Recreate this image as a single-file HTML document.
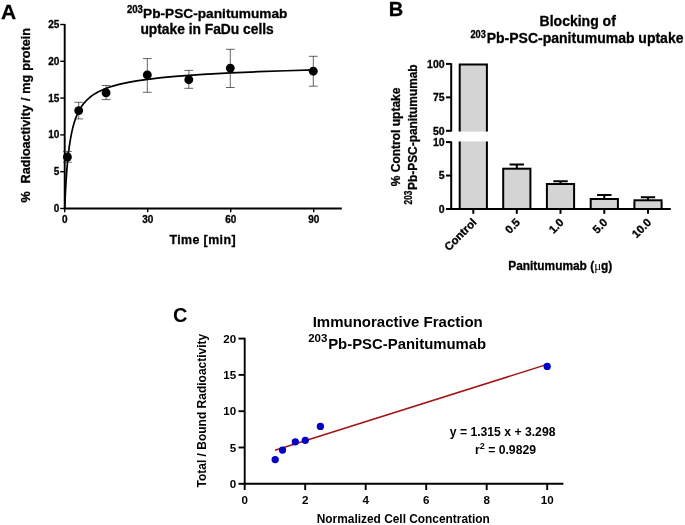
<!DOCTYPE html>
<html lang="en">
<head>
<meta charset="utf-8">
<title>203Pb-PSC-panitumumab figure</title>
<style>
html,body{margin:0;padding:0;background:#fff;}
body{width:685px;height:525px;overflow:hidden;}
svg{display:block;will-change:transform;}
text{white-space:pre;}
.hv text{stroke:#000;stroke-width:0.3px;stroke-linejoin:round;}
</style>
</head>
<body>
<svg width="685" height="525" viewBox="0 0 685 525">
<rect width="685" height="525" fill="#fff"/>
<g id="panelA" font-family='"Liberation Sans", Arial, Helvetica, sans-serif' font-weight="bold" fill="#000" class="hv">
<text x="0.9" y="18.8" font-size="21">A</text>
<text x="126.9" y="12.7" font-size="10" textLength="16" lengthAdjust="spacingAndGlyphs">203</text>
<text x="143.0" y="18.4" font-size="13.7">Pb-PSC-panitumumab</text>
<text x="207.1" y="34.3" font-size="13.8" text-anchor="middle">uptake in FaDu cells</text>
<path d="M64.7 23.9 V208.5 H341.8" fill="none" stroke="#000" stroke-width="1.9"/>
<path d="M60.2 208.50 H64.7" stroke="#000" stroke-width="1.4"/>
<text x="59.300000000000004" y="211.90" font-size="10" text-anchor="end">0</text>
<path d="M60.2 171.70 H64.7" stroke="#000" stroke-width="1.4"/>
<text x="59.300000000000004" y="175.10" font-size="10" text-anchor="end">5</text>
<path d="M60.2 134.90 H64.7" stroke="#000" stroke-width="1.4"/>
<text x="59.300000000000004" y="138.30" font-size="10" text-anchor="end">10</text>
<path d="M60.2 98.10 H64.7" stroke="#000" stroke-width="1.4"/>
<text x="59.300000000000004" y="101.50" font-size="10" text-anchor="end">15</text>
<path d="M60.2 61.30 H64.7" stroke="#000" stroke-width="1.4"/>
<text x="59.300000000000004" y="64.70" font-size="10" text-anchor="end">20</text>
<path d="M60.2 24.50 H64.7" stroke="#000" stroke-width="1.4"/>
<text x="59.300000000000004" y="27.90" font-size="10" text-anchor="end">25</text>
<path d="M64.70 208.5 V212.3" stroke="#000" stroke-width="1.4"/>
<text x="64.70" y="223.4" font-size="10" text-anchor="middle">0</text>
<path d="M147.70 208.5 V212.3" stroke="#000" stroke-width="1.4"/>
<text x="147.70" y="223.4" font-size="10" text-anchor="middle">30</text>
<path d="M230.70 208.5 V212.3" stroke="#000" stroke-width="1.4"/>
<text x="230.70" y="223.4" font-size="10" text-anchor="middle">60</text>
<path d="M313.70 208.5 V212.3" stroke="#000" stroke-width="1.4"/>
<text x="313.70" y="223.4" font-size="10" text-anchor="middle">90</text>
<text x="202.7" y="244.0" font-size="12.4" letter-spacing="0.4" text-anchor="middle">Time [min]</text>
<text transform="translate(30.4 28.1) rotate(-90)" font-size="12.6" word-spacing="0.45" text-anchor="end">%  Radioactivity / mg protein</text>
<path d="M64.70 208.50 L64.84 205.10 L64.98 201.87 L65.25 195.87 L65.53 190.42 L65.95 183.10 L66.36 176.65 L66.91 169.17 L67.47 162.71 L68.30 154.53 L69.13 147.74 L70.23 140.29 L71.62 132.87 L73.00 126.93 L74.38 122.08 L75.77 118.03 L77.15 114.60 L78.53 111.66 L81.30 106.85 L84.07 103.08 L86.83 100.03 L89.60 97.52 L92.37 95.40 L97.90 92.01 L103.43 89.40 L108.97 87.31 L114.50 85.60 L120.03 84.16 L128.33 82.36 L136.63 80.89 L147.70 79.29 L161.53 77.69 L175.37 76.38 L189.20 75.30 L203.03 74.38 L216.87 73.58 L230.70 72.89 L258.37 71.71 L286.03 70.76 L313.70 69.97" fill="none" stroke="#000" stroke-width="1.7" stroke-linejoin="round"/>
<path d="M67.4 151.4 V162.2 M63.00000000000001 151.4 H71.80000000000001 M63.00000000000001 162.2 H71.80000000000001" fill="none" stroke="#222" stroke-width="0.7"/>
<path d="M78.7 102.3 V118.9 M74.3 102.3 H83.10000000000001 M74.3 118.9 H83.10000000000001" fill="none" stroke="#222" stroke-width="0.7"/>
<path d="M106.1 85.5 V99.6 M101.69999999999999 85.5 H110.5 M101.69999999999999 99.6 H110.5" fill="none" stroke="#222" stroke-width="0.7"/>
<path d="M147.3 58.6 V92.3 M142.9 58.6 H151.70000000000002 M142.9 92.3 H151.70000000000002" fill="none" stroke="#222" stroke-width="0.7"/>
<path d="M188.8 70.4 V88.3 M184.4 70.4 H193.20000000000002 M184.4 88.3 H193.20000000000002" fill="none" stroke="#222" stroke-width="0.7"/>
<path d="M230.3 49.3 V87.5 M225.9 49.3 H234.70000000000002 M225.9 87.5 H234.70000000000002" fill="none" stroke="#222" stroke-width="0.7"/>
<path d="M313.3 56.3 V86.2 M308.90000000000003 56.3 H317.7 M308.90000000000003 86.2 H317.7" fill="none" stroke="#222" stroke-width="0.7"/>
<circle cx="67.4" cy="157.0" r="4.45"/>
<circle cx="78.7" cy="110.6" r="4.45"/>
<circle cx="106.1" cy="92.8" r="4.45"/>
<circle cx="147.3" cy="74.9" r="4.45"/>
<circle cx="188.8" cy="79.7" r="4.45"/>
<circle cx="230.3" cy="68.1" r="4.45"/>
<circle cx="313.3" cy="71.2" r="4.45"/>
</g>
<g id="panelB" font-family='"Liberation Sans", Arial, Helvetica, sans-serif' font-weight="bold" fill="#000" class="hv">
<text x="388.7" y="15.8" font-size="20">B</text>
<text x="577.7" y="25.6" font-size="14" text-anchor="middle">Blocking of</text>
<text x="470.4" y="37.7" font-size="10.3" textLength="15.4" lengthAdjust="spacingAndGlyphs">203</text>
<text x="486.7" y="43.3" font-size="14">Pb-PSC-panitumumab uptake</text>
<rect x="459.7" y="64.4" width="27.2" height="67.2" fill="#d4d4d4" stroke="none"/>
<path d="M459.7 131.6 V64.4 H486.90000000000003 V131.6" fill="none" stroke="#000" stroke-width="2"/>
<rect x="459.7" y="141.4" width="27.2" height="67.6" fill="#d4d4d4" stroke="none"/>
<path d="M459.7 141.4 V209.0 M486.90000000000003 141.4 V209.0" fill="none" stroke="#000" stroke-width="2"/>
<path d="M516.8 168.7 V164.4 M509.59999999999997 164.4 H524.0" fill="none" stroke="#000" stroke-width="2"/>
<rect x="503.19999999999993" y="168.7" width="27.2" height="40.30000000000001" fill="#d4d4d4" stroke="#000" stroke-width="2"/>
<path d="M560.5 184.0 V181.3 M553.3 181.3 H567.7" fill="none" stroke="#000" stroke-width="2"/>
<rect x="546.9" y="184.0" width="27.2" height="25.0" fill="#d4d4d4" stroke="#000" stroke-width="2"/>
<path d="M604.3 199.0 V194.9 M597.0999999999999 194.9 H611.5" fill="none" stroke="#000" stroke-width="2"/>
<rect x="590.6999999999999" y="199.0" width="27.2" height="10.0" fill="#d4d4d4" stroke="#000" stroke-width="2"/>
<path d="M648.0 200.3 V197.2 M640.8 197.2 H655.2" fill="none" stroke="#000" stroke-width="2"/>
<rect x="634.4" y="200.3" width="27.2" height="8.699999999999989" fill="#d4d4d4" stroke="#000" stroke-width="2"/>
<path d="M451.2 63.2 V131.6 M451.2 141.4 V209.0 H670.8" fill="none" stroke="#000" stroke-width="2"/>
<path d="M446.0 130.80 H451.2" stroke="#000" stroke-width="2"/>
<text x="444.59999999999997" y="134.60" font-size="10.5" text-anchor="end">50</text>
<path d="M446.0 97.35 H451.2" stroke="#000" stroke-width="2"/>
<text x="444.59999999999997" y="101.15" font-size="10.5" text-anchor="end">75</text>
<path d="M446.0 63.90 H451.2" stroke="#000" stroke-width="2"/>
<text x="444.59999999999997" y="67.70" font-size="10.5" text-anchor="end">100</text>
<path d="M446.0 209.00 H451.2" stroke="#000" stroke-width="2"/>
<text x="444.59999999999997" y="212.80" font-size="10.5" text-anchor="end">0</text>
<path d="M446.0 175.55 H451.2" stroke="#000" stroke-width="2"/>
<text x="444.59999999999997" y="179.35" font-size="10.5" text-anchor="end">5</text>
<path d="M446.0 142.10 H451.2" stroke="#000" stroke-width="2"/>
<text x="444.59999999999997" y="145.90" font-size="10.5" text-anchor="end">10</text>
<path d="M473.3 209.0 V213.8" stroke="#000" stroke-width="2"/>
<text transform="translate(477.3 223.1) rotate(-45)" font-size="11.3" text-anchor="end">Control</text>
<path d="M516.8 209.0 V213.8" stroke="#000" stroke-width="2"/>
<text transform="translate(520.8 223.1) rotate(-45)" font-size="11.3" text-anchor="end">0.5</text>
<path d="M560.5 209.0 V213.8" stroke="#000" stroke-width="2"/>
<text transform="translate(564.5 223.1) rotate(-45)" font-size="11.3" text-anchor="end">1.0</text>
<path d="M604.3 209.0 V213.8" stroke="#000" stroke-width="2"/>
<text transform="translate(608.3 223.1) rotate(-45)" font-size="11.3" text-anchor="end">5.0</text>
<path d="M648.0 209.0 V213.8" stroke="#000" stroke-width="2"/>
<text transform="translate(652.0 223.1) rotate(-45)" font-size="11.3" text-anchor="end">10.0</text>
<text x="560.3" y="270" font-size="11.9" text-anchor="middle">Panitumumab (<tspan font-weight="normal" font-size="13" stroke="none" font-family="'Liberation Serif', 'DejaVu Serif', serif">μ</tspan>g)</text>
<text transform="translate(400 136.9) rotate(-90)" font-size="12" text-anchor="middle">% Control uptake</text>
<text transform="translate(411.9 204.4) rotate(-90)" font-size="10.2" textLength="13.7" lengthAdjust="spacingAndGlyphs">203</text>
<text transform="translate(416.5 189.9) rotate(-90)" font-size="11.9">Pb-PSC-panitumumab</text>
</g>
<g id="panelC" font-family='"Liberation Sans", Arial, Helvetica, sans-serif' font-weight="bold" fill="#000">
<text x="173.0" y="321.5" font-size="20">C</text>
<text x="397.7" y="327.1" font-size="15" text-anchor="middle">Immunoractive Fraction</text>
<text x="308.2" y="341.9" font-size="11.1" textLength="19.2" lengthAdjust="spacingAndGlyphs">203</text>
<text x="328.2" y="349" font-size="14.9">Pb-PSC-Panitumumab</text>
<path d="M244.7 337.85 V483.8 H563.4" fill="none" stroke="#000" stroke-width="1.9"/>
<path d="M238.5 483.80 H244.7" stroke="#000" stroke-width="1.9"/>
<text x="236.1" y="487.90" font-size="11.6" text-anchor="end">0</text>
<path d="M238.5 447.50 H244.7" stroke="#000" stroke-width="1.9"/>
<text x="236.1" y="451.60" font-size="11.6" text-anchor="end">5</text>
<path d="M238.5 411.20 H244.7" stroke="#000" stroke-width="1.9"/>
<text x="236.1" y="415.30" font-size="11.6" text-anchor="end">10</text>
<path d="M238.5 374.90 H244.7" stroke="#000" stroke-width="1.9"/>
<text x="236.1" y="379.00" font-size="11.6" text-anchor="end">15</text>
<path d="M238.5 338.60 H244.7" stroke="#000" stroke-width="1.9"/>
<text x="236.1" y="342.70" font-size="11.6" text-anchor="end">20</text>
<path d="M244.70 483.8 V490.0" stroke="#000" stroke-width="1.9"/>
<text x="244.70" y="504.40000000000003" font-size="11.6" text-anchor="middle">0</text>
<path d="M305.20 483.8 V490.0" stroke="#000" stroke-width="1.9"/>
<text x="305.20" y="504.40000000000003" font-size="11.6" text-anchor="middle">2</text>
<path d="M365.70 483.8 V490.0" stroke="#000" stroke-width="1.9"/>
<text x="365.70" y="504.40000000000003" font-size="11.6" text-anchor="middle">4</text>
<path d="M426.20 483.8 V490.0" stroke="#000" stroke-width="1.9"/>
<text x="426.20" y="504.40000000000003" font-size="11.6" text-anchor="middle">6</text>
<path d="M486.70 483.8 V490.0" stroke="#000" stroke-width="1.9"/>
<text x="486.70" y="504.40000000000003" font-size="11.6" text-anchor="middle">8</text>
<path d="M547.20 483.8 V490.0" stroke="#000" stroke-width="1.9"/>
<text x="547.20" y="504.40000000000003" font-size="11.6" text-anchor="middle">10</text>
<path d="M274.95 450.31 L547.20 364.39" stroke="#a31515" stroke-width="1.5"/>
<circle cx="275.2" cy="459.6" r="3.65" fill="#0000c4"/>
<circle cx="282.5" cy="450.1" r="3.65" fill="#0000c4"/>
<circle cx="295.3" cy="441.8" r="3.65" fill="#0000c4"/>
<circle cx="305.3" cy="440.3" r="3.65" fill="#0000c4"/>
<circle cx="320.4" cy="426.4" r="3.65" fill="#0000c4"/>
<circle cx="547.2" cy="366.4" r="3.65" fill="#0000c4"/>
<text x="502.6" y="436.2" font-size="12.2" text-anchor="middle">y = 1.315 x + 3.298</text>
<text x="505.5" y="453.8" font-size="12.2" text-anchor="middle">r<tspan font-size="9" dy="-5">2</tspan><tspan dy="5"> = 0.9829</tspan></text>
<text x="403.3" y="522.5" font-size="11.9" text-anchor="middle">Normalized Cell Concentration</text>
<text transform="translate(206.4 410.6) rotate(-90)" font-size="12" text-anchor="middle">Total / Bound Radioactivity</text>
</g>
</svg>
</body>
</html>
